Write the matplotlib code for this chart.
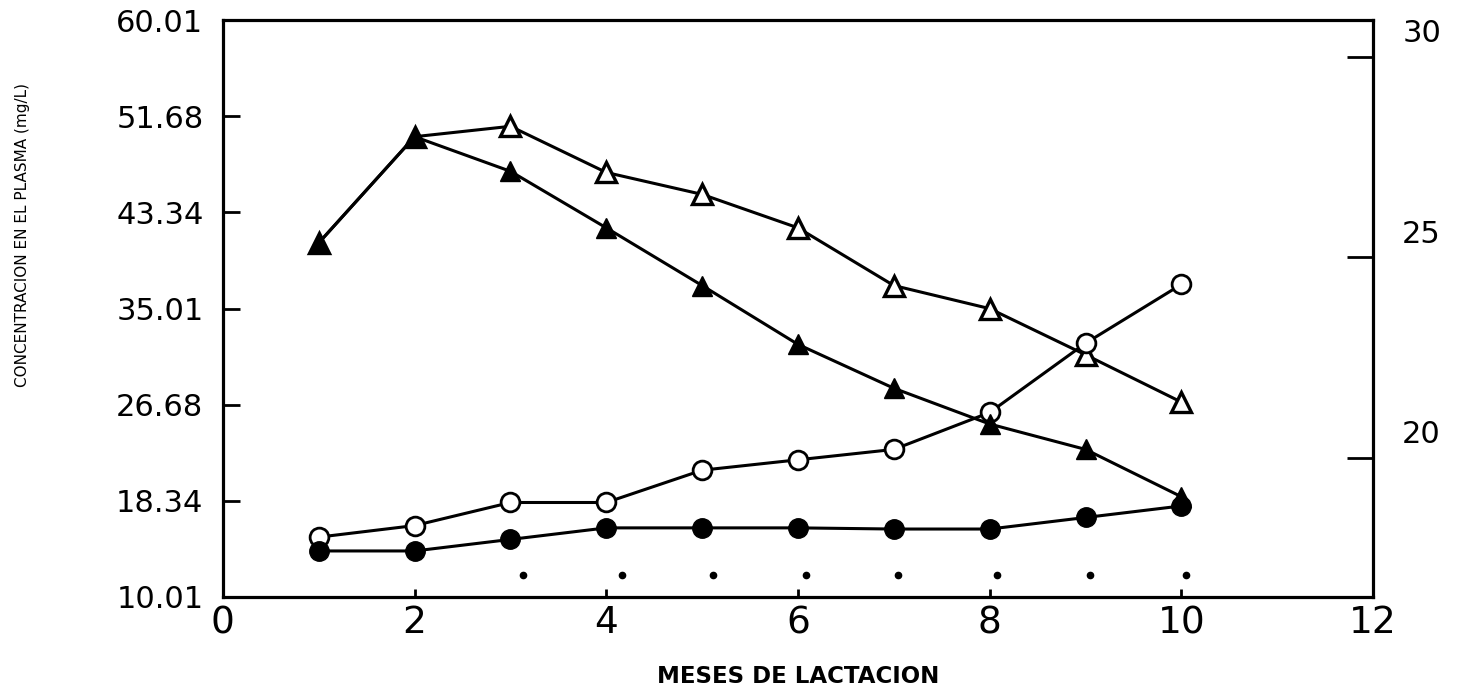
import matplotlib
matplotlib.use("Agg")
import matplotlib.pyplot as plt
import matplotlib.transforms as mtransforms
from matplotlib.ticker import FixedLocator, FormatStrFormatter

# Months of lactation
months = [1, 2, 3, 4, 5, 6, 7, 8, 9, 10]

# Plasma concentration series (mg/L)
filled_triangles = [40.7, 49.9, 46.9, 42.0, 37.0, 31.9, 28.1, 25.0, 22.8, 18.7]
open_triangles = [40.7, 49.9, 50.8, 46.8, 44.9, 42.0, 37.0, 35.0, 31.0, 26.9]
open_circles = [15.2, 16.2, 18.2, 18.2, 21.0, 21.9, 22.8, 26.0, 32.0, 37.1]
filled_circles = [14.0, 14.0, 15.0, 16.0, 16.0, 16.0, 15.9, 15.9, 16.9, 17.9]

# Significance dots along the bottom
sig_x = [3.13, 4.16, 5.11, 6.08, 7.04, 8.08, 9.05, 10.05]
sig_y = [11.9] * len(sig_x)

left_ticks = [10.01, 18.34, 26.68, 35.01, 43.34, 51.68, 60.01]
right_ticks = [20, 25, 30]
x_ticks = [0, 2, 4, 6, 8, 10, 12]

fig = plt.figure(figsize=(14.59, 6.98), dpi=100)
ax = fig.add_axes([0.1528, 0.1447, 0.9411 - 0.1528, 0.9713 - 0.1447])

lw = 2.2
ax.plot(months, open_triangles, color="black", lw=lw, marker="^", ms=14,
        mfc="white", mec="black", mew=2.4, zorder=3)
ax.plot(months, filled_triangles, color="black", lw=lw, marker="^", ms=14,
        mfc="black", mec="black", zorder=4)
ax.plot(months, open_circles, color="black", lw=lw, marker="o", ms=13.5,
        mfc="white", mec="black", mew=2.0, zorder=3)
ax.plot(months, filled_circles, color="black", lw=lw, marker="o", ms=14,
        mfc="black", mec="black", zorder=4)
ax.plot(sig_x, sig_y, linestyle="none", marker="o", ms=4.5, color="black", zorder=4)

ax.set_xlim(0, 12)
ax.set_ylim(10.01, 60.01)
ax.xaxis.set_major_locator(FixedLocator(x_ticks))
ax.yaxis.set_major_locator(FixedLocator(left_ticks))
ax.yaxis.set_major_formatter(FormatStrFormatter("%.2f"))

for s in ax.spines.values():
    s.set_linewidth(2.3)

ax.tick_params(axis="y", direction="in", length=12, width=2.0, pad=14,
               labelsize=22)
ax.tick_params(axis="x", direction="in", length=6, width=2.0, pad=6,
               labelsize=27)

# Secondary scale on the right
ax2 = ax.twinx()
ax2.set_ylim(16.53, 30.92)
ax2.yaxis.set_major_locator(FixedLocator(right_ticks))
ax2.tick_params(axis="y", direction="in", length=19, width=2.0, pad=21,
                labelsize=22)
for s in ax2.spines.values():
    s.set_visible(False)
shift = mtransforms.ScaledTranslation(0, 26 / 100, fig.dpi_scale_trans)
for lab in ax2.get_yticklabels():
    lab.set_transform(lab.get_transform() + shift)

fig.text(0.0151, 0.663, "CONCENTRACION EN EL PLASMA (mg/L)", rotation=90,
         ha="center", va="center", fontsize=11)
fig.text(0.547, 0.031, "MESES DE LACTACION", ha="center", va="center",
         fontsize=16.5, fontweight="bold")

fig.savefig("out.png", dpi=100, facecolor="white")
